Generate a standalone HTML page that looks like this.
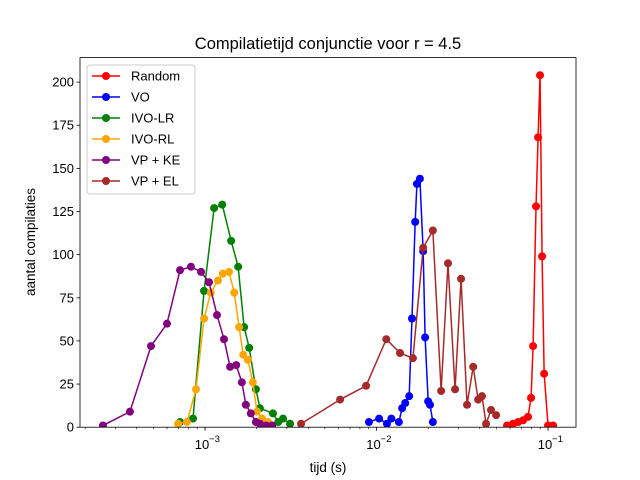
<!DOCTYPE html>
<html><head><meta charset="utf-8"><style>
body{margin:0;background:#fff}
svg{display:block;font-family:"Liberation Sans","DejaVu Sans",sans-serif}
</style></head><body>
<svg id="chart" width="640" height="480" viewBox="0 0 640 480">
<rect x="0" y="0" width="640" height="480" fill="#fff"/>
<text x="328" y="49" text-anchor="middle" font-size="16.5">Compilatietijd conjunctie voor r = 4.5</text>
<text x="328" y="472" text-anchor="middle" font-size="13.5">tijd (s)</text>
<text x="35" y="242" text-anchor="middle" font-size="13.5" transform="rotate(-90 35 242)">aantal compilaties</text>
<g id="plot"></g>
<g id="axes"></g>
<g id="legend"></g>
</svg>
<script>
const seriesNames = ["Random","VO","IVO-LR","IVO-RL","VP + KE","VP + EL"];
const seriesColors = ["#ff0000","#0000ff","#008000","#ffa500","#800080","#a52a2a"];
const randomX = [0.0577,0.0625,0.0669,0.0715,0.0764,0.0796,0.0818,0.0851,0.0875,0.0898,0.0923,0.0949,0.100,0.107];
const randomY = [1,2,3,4,6,17,47,128,168,204,99,31,1,1];
const voX = [0.00903,0.01035,0.0115,0.0122,0.0135,0.0141,0.0147,0.0155,0.0161,0.0168,0.0172,0.0179,0.0187,0.0192,0.0200,0.0205,0.0213];
const voY = [3,5,2,5,3,11,14,18,63,119,141,144,102,52,15,13,3];
const ivolrX = [0.000715,0.000851,0.000987,0.00113,0.00126,0.00142,0.00156,0.00169,0.00181,0.00198,0.00209,0.00249,0.00267,0.00285,0.00313];
const ivolrY = [3,5,79,127,129,108,93,58,46,22,11,8,3,5,2];
const ivorlX = [0.000696,0.000785,0.000886,0.000987,0.00108,0.00119,0.00127,0.00138,0.00148,0.00158,0.00167,0.00178,0.00190,0.00201,0.00215,0.00233];
const ivorlY = [2,3,22,63,78,85,89,90,78,58,42,39,26,9,5,3];
const vpkeX = [0.000254,0.000365,0.000484,0.000600,0.000715,0.000828,0.000948,0.001055,0.001175,0.00129,0.00140,0.00152,0.00164,0.00173,0.00185,0.00198,0.00209,0.00227,0.00246];
const vpkeY = [1,9,47,60,91,93,90,84,65,51,35,36,26,13,8,3,2,1,1];
const vpelX = [0.00363,0.00613,0.00869,0.0114,0.0137,0.0163,0.0187,0.0213,0.0238,0.0261,0.0287,0.0311,0.0337,0.0366,0.0391,0.0412,0.0435,0.0465,0.0498];
const vpelY = [2,16,24,51,43,40,104,114,21,95,22,86,13,35,16,18,2,10,7];
const allX = [randomX,voX,ivolrX,ivorlX,vpkeX,vpelX];
const allY = [randomY,voY,ivolrY,ivorlY,vpkeY,vpelY];
const yTicks = [0,25,50,75,100,125,150,175,200];
const xMajor = [-3,-2,-1];

const L=80,R=576,T=57.6,B=427.2;
const lxMin=-3.729,lxMax=-0.837,yMin=0,yMax=214.2;
function sx(v){return L+(Math.log10(v)-lxMin)/(lxMax-lxMin)*(R-L);}
function sy(v){return B-(v-yMin)/(yMax-yMin)*(B-T);}
const NS="http://www.w3.org/2000/svg";
function mk(tag,attrs,parent){const e=document.createElementNS(NS,tag);for(const k in attrs)e.setAttribute(k,attrs[k]);parent.appendChild(e);return e;}
const plot=document.getElementById('plot'),axes=document.getElementById('axes'),leg=document.getElementById('legend');
const clip=mk('clipPath',{id:'c'},plot);mk('rect',{x:L,y:T,width:R-L,height:B-T},clip);
const pg=mk('g',{'clip-path':'url(#c)'},plot);
allX.forEach((xs,i)=>{
  const g=mk('g',{},pg);
  
  
  const pts=xs.map((x,j)=>sx(x).toFixed(2)+','+sy(allY[i][j]).toFixed(2)).join(' ');
  const pl=mk('polyline',{points:pts,fill:'none',stroke:seriesColors[i],'stroke-width':1.5,'stroke-linejoin':'round'},g);
  
  
  xs.forEach((x,j)=>{
    const c=mk('circle',{cx:sx(x),cy:sy(allY[i][j]),r:4,fill:seriesColors[i]},g);
    
    
  });
});
const fr=mk('rect',{x:L,y:T,width:R-L,height:B-T,fill:'none',stroke:'#000','stroke-width':0.8},axes);


yTicks.forEach(t=>{
  const y=sy(t);
  const tk=mk('line',{x1:L-3.5,x2:L,y1:y,y2:y,stroke:'#000','stroke-width':0.8},axes);
  
  
  const tx=mk('text',{x:L-6,y:y+4.5,'text-anchor':'end','font-size':13},axes);
  tx.textContent=t;
  
  
});
for(let d=-4;d<=-1;d++){for(let m=1;m<10;m++){
  const v=m*Math.pow(10,d);const x=sx(v);if(x<L-0.1||x>R+0.1)continue;
  const tk=mk('line',{x1:x,x2:x,y1:B,y2:B+(m===1?3.5:2),stroke:'#000','stroke-width':m===1?0.8:0.6},axes);
  
  
}}
xMajor.forEach(e=>{
  const x=sx(Math.pow(10,e));
  const tx=mk('text',{x:x-3,y:B+22,'text-anchor':'middle','font-size':13},axes);
  tx.textContent='10';
  
  
  const sup=mk('text',{x:x+4,y:B+15,'text-anchor':'start','font-size':9.5},axes);
  sup.textContent='\u2212'+(-e);
  
  
});
const lb=mk('rect',{x:87,y:65,width:108,height:129,rx:3,fill:'#fff','fill-opacity':0.8,stroke:'#ccc','stroke-width':1},leg);


seriesNames.forEach((n,i)=>{
  const y=76+i*21;
  const g=mk('g',{},leg);
  
  
  mk('line',{x1:92,x2:120,y1:y,y2:y,stroke:seriesColors[i],'stroke-width':1.5},g);
  mk('circle',{cx:106,cy:y,r:4,fill:seriesColors[i]},g);
  const t=mk('text',{x:131,y:y+4.5,'font-size':13},g);
  t.textContent=n;
});
</script>
</body></html>
